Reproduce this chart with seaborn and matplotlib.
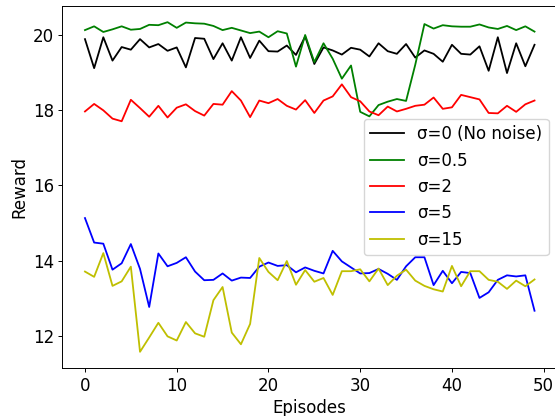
import numpy as np
import pandas as pd
import matplotlib
matplotlib.use("Agg")
import matplotlib.pyplot as plt
import seaborn as sns

# valeurs (50 episodes)
episodes = np.arange(50)

reward_sigma0 = [19.88, 19.11, 19.93, 19.31, 19.67, 19.60, 19.88, 19.66, 19.75, 19.57,
                 19.66, 19.13, 19.91, 19.89, 19.35, 19.77, 19.31, 19.93, 19.38, 19.84,
                 19.56, 19.55, 19.71, 19.46, 19.95, 19.22, 19.66, 19.58, 19.47, 19.65,
                 19.60, 19.42, 19.77, 19.56, 19.49, 19.75, 19.39, 19.58, 19.49, 19.28,
                 19.73, 19.49, 19.47, 19.69, 19.04, 19.93, 18.98, 19.77, 19.16, 19.73]

reward_sigma05 = [20.12, 20.22, 20.07, 20.14, 20.22, 20.13, 20.15, 20.26, 20.25, 20.33,
                  20.18, 20.32, 20.30, 20.29, 20.23, 20.12, 20.18, 20.11, 20.04, 20.08,
                  19.93, 20.09, 20.03, 19.15, 19.99, 19.27, 19.77, 19.36, 18.83, 19.18,
                  17.95, 17.83, 18.13, 18.22, 18.29, 18.24, 19.20, 20.28, 20.16, 20.25,
                  20.22, 20.21, 20.21, 20.27, 20.19, 20.15, 20.23, 20.12, 20.22, 20.08]

reward_sigma2 = [17.96, 18.16, 17.99, 17.77, 17.70, 18.27, 18.05, 17.82, 18.11, 17.80,
                 18.06, 18.15, 17.97, 17.85, 18.16, 18.14, 18.50, 18.25, 17.81, 18.25,
                 18.18, 18.29, 18.11, 18.01, 18.26, 17.92, 18.25, 18.36, 18.68, 18.34,
                 18.23, 17.96, 17.86, 18.09, 17.96, 18.03, 18.11, 18.14, 18.33, 18.03,
                 18.07, 18.40, 18.34, 18.28, 17.92, 17.91, 18.11, 17.95, 18.15, 18.25]

reward_sigma5 = [15.13, 14.48, 14.45, 13.76, 13.93, 14.44, 13.78, 12.77, 14.19, 13.85,
                 13.94, 14.09, 13.71, 13.48, 13.49, 13.66, 13.47, 13.55, 13.54, 13.84,
                 13.95, 13.86, 13.88, 13.69, 13.82, 13.73, 13.66, 14.26, 13.98, 13.82,
                 13.66, 13.67, 13.78, 13.65, 13.49, 13.85, 14.09, 14.09, 13.35, 13.73,
                 13.40, 13.70, 13.67, 13.01, 13.16, 13.49, 13.61, 13.58, 13.61, 12.67]

reward_sigma15 = [13.71, 13.57, 14.20, 13.33, 13.45, 13.84, 11.58, 11.96, 12.35, 11.99,
                  11.88, 12.37, 12.07, 11.98, 12.95, 13.30, 12.09, 11.78, 12.32, 14.07,
                  13.70, 13.48, 13.99, 13.36, 13.75, 13.44, 13.54, 13.09, 13.72, 13.72,
                  13.77, 13.45, 13.79, 13.35, 13.60, 13.76, 13.47, 13.33, 13.24, 13.18,
                  13.86, 13.32, 13.72, 13.72, 13.49, 13.44, 13.25, 13.47, 13.32, 13.50]

labels = ["σ=0 (No noise)", "σ=0.5", "σ=2", "σ=5", "σ=15"]
couleurs = ["k", "g", "r", "b", "y"]

series = [reward_sigma0, reward_sigma05, reward_sigma2, reward_sigma5, reward_sigma15]
df = pd.concat(
    [pd.DataFrame({"episode": episodes, "reward": s, "sigma": lab}) for s, lab in zip(series, labels)],
    ignore_index=True,
)

plt.rcParams.update({
    "font.size": 12,
    "xtick.major.size": 3.0, "ytick.major.size": 3.0,
    "xtick.major.pad": 3.0, "ytick.major.pad": 3.0,
    "xtick.major.width": 0.7, "ytick.major.width": 0.7,
    "axes.linewidth": 0.7,
    "axes.labelpad": 3.5,
})

fig = plt.figure(figsize=(5.55, 4.16), dpi=100)
ax = fig.add_axes([0.1126, 0.1147, 0.891, 0.8716])

for lab, cor in zip(labels, couleurs):
    sub = df[df["sigma"] == lab]
    sns.lineplot(data=sub, x="episode", y="reward", color=cor, label=lab, linewidth=1.3, ax=ax)

ax.set_xlabel("Episodes")
ax.set_ylabel("Reward")
ax.legend(loc="center right")

fig.savefig("out.png", dpi=100)
